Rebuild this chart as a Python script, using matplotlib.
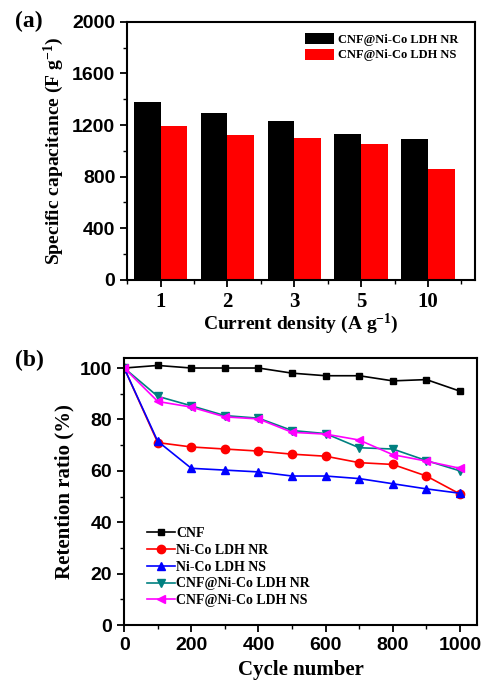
import numpy as np
import matplotlib.pyplot as plt
from matplotlib.ticker import MultipleLocator

densities = ['1', '2', '3', '5', '10']
cap_nr = [1375, 1295, 1235, 1130, 1090]
cap_ns = [1190, 1120, 1100, 1055, 860]

cycles = [0, 100, 200, 300, 400, 500, 600, 700, 800, 900, 1000]
ret_cnf = [100, 101, 100, 100, 100, 98, 97, 97, 95, 95.5, 91]
ret_ldh_nr = [100, 71, 69.3, 68.5, 67.7, 66.5, 65.7, 63.2, 62.5, 58, 51]
ret_ldh_ns = [100, 71.5, 61, 60.3, 59.6, 58, 58, 57, 55, 53, 51.3]
ret_cnf_nr = [100, 89, 85.3, 81.5, 80.5, 75.7, 74.5, 69, 68.5, 64, 60]
ret_cnf_ns = [100, 87, 84.8, 81, 80.2, 75, 74.3, 72, 66.3, 63.8, 61]

serif = 'Liberation Serif'
sans = 'Liberation Sans'
plt.rcParams['mathtext.default'] = 'regular'

fig = plt.figure(figsize=(4.85, 6.84), dpi=100)
ax1 = fig.add_axes([0.262, 0.591, 0.717, 0.377])
ax2 = fig.add_axes([0.256, 0.086, 0.727, 0.391])

def style(ax):
    for s in ax.spines.values():
        s.set_linewidth(1.5)
    ax.tick_params(which='major', direction='out', length=5, width=1.3)
    ax.tick_params(which='minor', direction='out', length=3, width=1.0)
    for lab in ax.get_xticklabels() + ax.get_yticklabels():
        lab.set_fontfamily(sans)
        lab.set_fontweight('bold')
        lab.set_fontsize(14)

# (a) bars
x = np.arange(1, len(densities) + 1)
w = 0.4
ax1.bar(x - w / 2, cap_nr, w, color='black', label='CNF@Ni-Co LDH NR')
ax1.bar(x + w / 2, cap_ns, w, color='red', label='CNF@Ni-Co LDH NS')
ax1.set_xlim(0.5, 5.7)
ax1.set_ylim(0, 2000)
ax1.set_xticks(x)
ax1.set_xticklabels(densities)
ax1.xaxis.set_minor_locator(MultipleLocator(0.5))
ax1.yaxis.set_major_locator(MultipleLocator(400))
ax1.yaxis.set_minor_locator(MultipleLocator(200))
style(ax1)
for lab in ax1.get_xticklabels():
    lab.set_fontfamily(serif)
    lab.set_fontsize(15)
ax1.set_xlabel('Current density (A g$^{-1}$)', fontfamily=serif, fontweight='bold', fontsize=14, labelpad=0)
ax1.set_ylabel('Specific capacitance (F g$^{-1}$)', fontfamily=serif, fontweight='bold', fontsize=14, labelpad=4)
ax1.legend(loc='upper right', frameon=False, prop={'family': serif, 'weight': 'bold', 'size': 9},
           handlelength=2.3, handleheight=1.0, labelspacing=0.2, handletextpad=0.3,
           bbox_to_anchor=(0.985, 1.0))
fig.text(0.03, 0.968, '(a)', fontfamily=serif, fontweight='bold', fontsize=17, va='center')

# (b) retention
series = [
    (ret_cnf, 'black', 's', 4, 'CNF'),
    (ret_ldh_nr, 'red', 'o', 6, 'Ni-Co LDH NR'),
    (ret_ldh_ns, 'blue', '^', 6, 'Ni-Co LDH NS'),
    (ret_cnf_nr, '#008080', 'v', 6, 'CNF@Ni-Co LDH NR'),
    (ret_cnf_ns, 'magenta', '<', 6, 'CNF@Ni-Co LDH NS'),
]
for vals, c, m, ms, lab in series:
    ax2.plot(cycles, vals, color=c, marker=m, markersize=ms, linewidth=1.2, label=lab)
ax2.set_xlim(0, 1050)
ax2.set_ylim(0, 104)
ax2.xaxis.set_major_locator(MultipleLocator(200))
ax2.xaxis.set_minor_locator(MultipleLocator(100))
ax2.yaxis.set_major_locator(MultipleLocator(20))
ax2.yaxis.set_minor_locator(MultipleLocator(10))
style(ax2)
ax2.set_xlabel('Cycle number', fontfamily=serif, fontweight='bold', fontsize=15, labelpad=4)
ax2.set_ylabel('Retention ratio (%)', fontfamily=serif, fontweight='bold', fontsize=15, labelpad=4)
ax2.legend(loc='lower left', frameon=False, prop={'family': serif, 'weight': 'bold', 'size': 10},
           handlelength=2.0, labelspacing=0.28, handletextpad=0.1, bbox_to_anchor=(0.03, 0.02))
fig.text(0.03, 0.473, '(b)', fontfamily=serif, fontweight='bold', fontsize=17, va='center')

fig.savefig('out.png', dpi=100)
